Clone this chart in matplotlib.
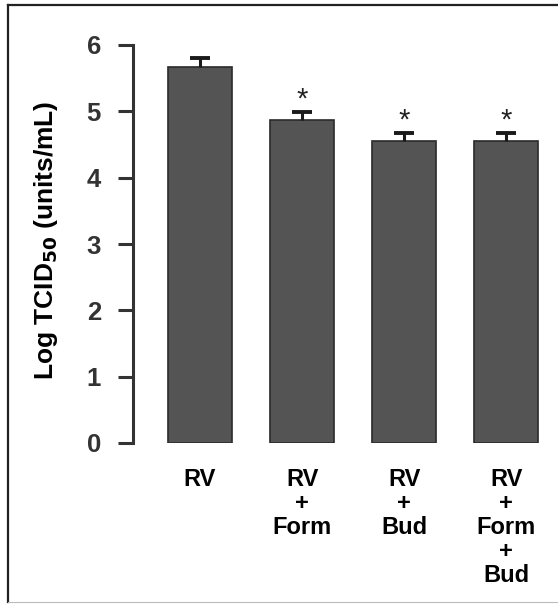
import matplotlib.pyplot as plt
import numpy as np

plt.rcParams['font.family'] = ['Liberation Sans', 'DejaVu Sans']

groups = ["RV", "RV\n+\nForm", "RV\n+\nBud", "RV\n+\nForm\n+\nBud"]
log_tcid50 = [5.67, 4.87, 4.55, 4.55]
sem = [0.13, 0.12, 0.12, 0.12]
significant = [False, True, True, True]

fig = plt.figure(figsize=(5.58, 6.05), dpi=100)

# outer frame like the scanned figure box
fig.add_artist(plt.Line2D([8 / 558, 8 / 558], [3 / 605, 600 / 605], color="#222222", lw=1.6))
fig.add_artist(plt.Line2D([8 / 558, 1.0], [600 / 605, 600 / 605], color="#222222", lw=1.6))
fig.add_artist(plt.Line2D([8 / 558, 1.0], [3 / 605, 3 / 605], color="#bbbbbb", lw=0.8))

ax = fig.add_axes([133 / 558, (605 - 443) / 605, (550 - 133) / 558, (443 - 45) / 605])

x = np.arange(len(groups))
ax.bar(x, log_tcid50, width=0.62, color="#545454", edgecolor="#2a2a2a", linewidth=1.2)
eb = ax.errorbar(x, log_tcid50, yerr=[np.zeros(len(sem)), sem], fmt="none",
                 ecolor="#1a1a1a", elinewidth=2.2, capsize=7, capthick=2.8)
eb[1][0].set_visible(False)  # only the upper cap, like the original

for xi, v, e, s in zip(x, log_tcid50, sem, significant):
    if s:
        ax.text(xi, v + e - 0.02, "*", ha="center", va="bottom", fontsize=21, color="#222222")

ax.set_xlim(-0.657, 3.43)
ax.set_ylim(0, 6)
ax.set_yticks(range(0, 7))
ax.set_xticks(x)
ax.set_xticklabels(groups, fontsize=17, fontweight="bold", linespacing=1.05)

for side in ["top", "right", "bottom"]:
    ax.spines[side].set_visible(False)
ax.spines["left"].set_linewidth(2.2)
ax.spines["left"].set_color("#333333")

ax.tick_params(axis="y", direction="out", length=11, width=2.2, color="#333333",
               labelsize=18.5, pad=12)
ax.tick_params(axis="x", length=0, pad=18)
for lbl in ax.get_yticklabels():
    lbl.set_fontweight("bold")
    lbl.set_color("#333333")

ax.set_ylabel("Log TCID$_{\\mathbf{50}}$ (units/mL)", fontsize=19, fontweight="bold")
ax.yaxis.set_label_coords(-0.175, 0.51)

fig.savefig("out.png", dpi=100)
